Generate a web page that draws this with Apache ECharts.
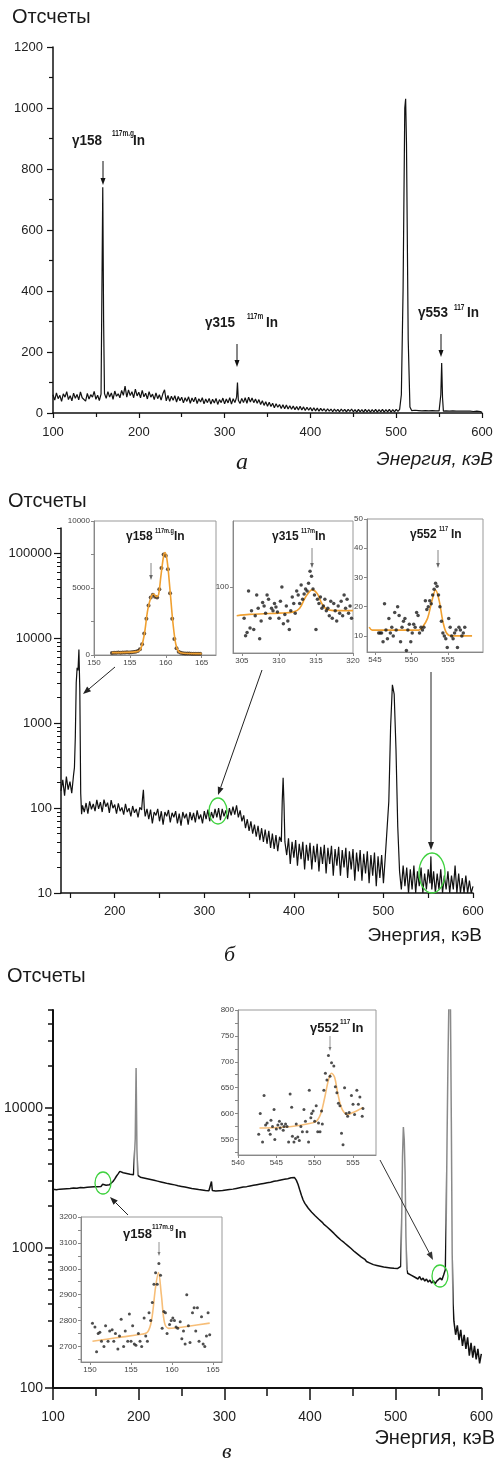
<!DOCTYPE html>
<html><head><meta charset="utf-8">
<script src="https://cdn.jsdelivr.net/npm/echarts@6/dist/echarts.min.js"></script>
<style>html,body{margin:0;padding:0;background:#fff}#c{width:496px;height:1461px}</style>
</head><body><div id="c"></div>
<script>
// ---------------- DATA ----------------
// Panel a: energy (keV), counts (linear)
const specA = [[100,60],[102,42],[104,66],[106,47],[108,58],[110,38],[112,63],[114,52],[116,70],[118,44],[120,57],[122,40],[124,65],[126,48],[128,61],[130,43],[132,69],[134,50],[136,56],[138,39],[140,64],[142,46],[144,60],[146,52],[148,71],[150,45],[152,58],[154,41],[156,62],[157,400],[158,740],[159,300],[160,64],[162,48],[164,70],[166,52],[168,66],[170,45],[172,72],[174,55],[176,63],[178,50],[180,74],[182,58],[184,88],[186,52],[188,76],[190,57],[192,70],[194,50],[196,78],[198,56],[200,68],[202,50],[204,74],[206,53],[208,65],[210,46],[212,70],[214,52],[216,62],[218,44],[220,66],[222,47],[224,60],[226,42],[228,63],[230,76],[232,40],[234,58],[236,38],[238,55],[240,42],[242,57],[244,36],[246,54],[248,40],[250,52],[252,33],[254,50],[256,38],[258,53],[260,32],[262,49],[264,37],[266,52],[268,31],[270,47],[272,36],[274,50],[276,30],[278,46],[280,34],[282,48],[284,29],[286,45],[288,33],[290,48],[292,28],[294,44],[296,34],[298,49],[300,30],[302,46],[304,33],[306,50],[308,29],[310,47],[312,34],[314,52],[315,100],[316,42],[318,31],[320,48],[322,34],[324,50],[326,32],[328,52],[330,36],[332,49],[334,34],[336,46],[338,32],[340,44],[342,28],[344,40],[346,25],[348,37],[350,22],[352,35],[354,21],[356,32],[358,17],[360,30],[362,19],[364,28],[366,15],[368,27],[370,14],[372,26],[374,13],[376,24],[378,12],[380,23],[382,11],[384,21],[386,10],[388,22],[390,10],[392,20],[394,8],[396,19],[398,9],[400,18],[402,7],[404,17],[406,7],[408,16],[410,6],[412,15],[414,7],[416,14],[418,5],[420,14],[422,6],[424,13],[426,4],[428,13],[430,5],[432,12],[434,4],[436,13],[438,5],[440,12],[442,4],[444,12],[446,5],[448,13],[450,4],[452,11],[454,3],[456,12],[458,4],[460,11],[462,3],[464,12],[466,4],[468,11],[470,3],[472,11],[474,4],[476,12],[478,3],[480,11],[482,4],[484,12],[486,3],[488,11],[490,4],[492,12],[494,3],[496,11],[498,4],[500,12],[502,5],[504,12],[506,60],[508,400],[510,1000],[511,1030],[512,880],[514,240],[516,20],[518,8],[520,4],[522,9],[524,3],[526,8],[528,2],[530,7],[532,3],[534,8],[536,2],[538,7],[540,3],[542,8],[544,2],[546,7],[548,3],[550,7],[551,8],[552,60],[553,164],[554,50],[555,6],[556,3],[558,7],[560,2],[562,6],[564,2],[566,7],[568,2],[570,6],[572,1],[574,6],[576,2],[578,6],[580,1],[582,6],[584,2],[586,6],[588,1],[590,5],[592,2],[594,6],[596,1],[598,5],[600,2]];

// Panel b: energy (keV), counts (log axis)
const specB = [[140,160],[142,215],[144,140],[146,235],[148,165],[150,205],[152,150],[154,245],[155,300],[156,700],[157,3000],[158,4500],[159,4200],[160,7400],[161,2500],[162,150],[163,85],[164,108],[166,90],[168,115],[170,86],[172,120],[174,97],[176,112],[178,92],[180,125],[182,98],[184,118],[186,90],[188,126],[190,104],[192,116],[194,88],[196,124],[198,100],[200,110],[202,86],[204,114],[206,92],[208,102],[210,84],[212,112],[214,90],[216,100],[218,80],[220,106],[222,88],[224,98],[226,78],[228,102],[230,95],[231,130],[232,164],[233,100],[234,80],[236,98],[238,74],[240,96],[242,66],[244,90],[246,82],[248,98],[250,70],[252,92],[254,64],[256,90],[258,80],[260,95],[262,68],[264,88],[266,78],[268,92],[270,66],[272,86],[274,62],[276,90],[278,76],[280,86],[282,64],[284,90],[286,72],[288,88],[290,68],[292,94],[294,74],[296,84],[298,66],[300,92],[302,74],[304,96],[306,70],[308,90],[310,76],[312,98],[314,78],[316,100],[318,72],[320,98],[322,80],[324,94],[326,74],[328,100],[330,82],[332,104],[334,84],[336,108],[338,78],[340,94],[342,70],[344,82],[346,58],[348,74],[350,54],[352,70],[354,50],[356,64],[358,46],[360,62],[362,42],[364,58],[366,40],[368,56],[370,38],[372,54],[374,34],[376,50],[378,33],[380,48],[382,31],[384,46],[386,40],[387,120],[388,228],[389,110],[390,40],[392,28],[394,44],[396,22],[398,40],[400,26],[402,42],[404,21],[406,38],[408,25],[410,40],[412,19],[414,37],[416,24],[418,39],[420,19],[422,36],[424,23],[426,38],[428,18],[430,35],[432,22],[434,37],[436,17],[438,34],[440,22],[442,36],[444,16],[446,33],[448,21],[450,35],[452,16],[454,32],[456,20],[458,34],[460,15],[462,31],[464,19],[466,33],[468,14],[470,30],[472,18],[474,32],[476,14],[478,29],[480,17],[482,31],[484,13],[486,28],[488,16],[490,30],[492,12],[494,27],[496,15],[498,28],[500,13],[502,26],[504,25],[506,120],[508,900],[510,2840],[512,2200],[514,500],[516,60],[518,18],[520,11],[522,21],[524,12],[526,20],[528,10],[530,19],[532,11],[534,21],[536,10],[538,18],[540,12],[542,20],[544,10],[546,17],[548,11],[550,19],[552,13],[553,27],[554,11],[556,18],[558,10],[560,17],[562,11],[564,19],[566,10],[568,16],[570,11],[572,18],[574,10],[576,16],[578,11],[580,21],[582,10],[584,17],[586,10],[588,15],[590,10],[592,16],[594,10],[596,14],[598,10],[600,12]];

// Panel c: energy (keV), counts (log axis)
const specC = [[100,2620],[102,2680],[104,2600],[106,2660],[108,2630],[110,2700],[112,2640],[114,2690],[116,2650],[118,2720],[120,2660],[122,2700],[124,2680],[126,2740],[128,2670],[130,2720],[132,2700],[134,2750],[136,2690],[138,2740],[140,2710],[142,2760],[144,2720],[146,2770],[148,2730],[150,2780],[152,2740],[154,2790],[156,2750],[158,2850],[160,2760],[162,2800],[164,2780],[166,2830],[168,2880],[170,2980],[172,3100],[174,3250],[176,3380],[178,3520],[180,3480],[182,3440],[184,3460],[186,3400],[188,3420],[190,3360],[192,3380],[194,3330],[195,3350],[196,6000],[197,19300],[198,5000],[199,3300],[200,3250],[202,3200],[204,3220],[206,3160],[208,3180],[210,3120],[212,3140],[214,3080],[216,3100],[218,3040],[220,3060],[222,3000],[224,3020],[226,2960],[228,2980],[230,2920],[232,2940],[234,2880],[236,2900],[238,2850],[240,2870],[242,2820],[244,2840],[246,2780],[248,2800],[250,2750],[252,2770],[254,2720],[256,2740],[258,2690],[260,2710],[262,2660],[264,2680],[266,2640],[268,2660],[270,2610],[272,2640],[274,2590],[276,2620],[278,2570],[280,2600],[282,2560],[284,2590],[285,2980],[286,2570],[288,2590],[290,2550],[292,2580],[294,2560],[296,2600],[298,2570],[300,2610],[302,2590],[304,2640],[306,2610],[308,2660],[310,2630],[312,2690],[314,2660],[316,2710],[318,2690],[320,2740],[322,2720],[324,2770],[326,2740],[328,2800],[330,2770],[332,2830],[334,2800],[336,2860],[338,2830],[340,2890],[342,2860],[344,2920],[346,2890],[348,2950],[350,2920],[352,2980],[354,2950],[356,3010],[358,2990],[360,3050],[362,3020],[364,3080],[366,3060],[368,3110],[370,3090],[372,3140],[374,3120],[376,3180],[378,3170],[380,3220],[382,3180],[384,3050],[386,2850],[388,2600],[390,2380],[392,2200],[394,2080],[396,2000],[398,1920],[400,1870],[402,1800],[404,1760],[406,1700],[408,1660],[410,1610],[412,1570],[414,1530],[416,1480],[418,1450],[420,1410],[422,1370],[424,1340],[426,1300],[428,1270],[430,1240],[432,1200],[434,1180],[436,1140],[438,1120],[440,1090],[442,1060],[444,1040],[446,1010],[448,990],[450,960],[452,940],[454,920],[456,900],[458,880],[460,860],[462,850],[464,830],[466,800],[468,810],[470,780],[472,790],[474,760],[476,775],[478,750],[480,765],[482,740],[484,755],[486,730],[488,750],[490,725],[492,745],[494,720],[496,740],[498,715],[500,735],[502,712],[504,730],[506,740],[507,1500],[508,4500],[509,7300],[510,6000],[511,3500],[512,1200],[513,700],[514,660],[516,680],[518,640],[520,660],[522,620],[524,640],[526,600],[528,625],[530,590],[532,610],[534,580],[536,600],[538,570],[540,590],[542,560],[544,585],[546,555],[548,580],[550,570],[552,610],[554,590],[556,640],[558,700],[559,1500],[560,6000],[561,20000],[562,50000],[563,60000],[564,50000],[565,8000],[566,900],[567,400],[568,300],[570,240],[572,280],[574,220],[576,260],[578,200],[580,240],[582,190],[584,230],[586,170],[588,210],[590,165],[592,200],[594,160],[596,190],[598,150],[600,175]];

// Inset b1 (γ158, panel б)
const b1Dots = [[152.5,150],[152.8,170],[153.1,160],[153.4,180],[153.7,170],[154.0,190],[154.3,180],[154.6,200],[154.9,190],[155.2,210],[155.5,220],[155.8,240],[156.1,300],[156.4,420],[156.7,800],[157.0,1600],[157.3,2700],[157.6,3700],[157.9,4300],[158.2,4500],[158.5,4350],[158.8,4300],[159.1,4900],[159.4,6500],[159.7,7500],[160.0,7400],[160.3,6400],[160.6,4600],[160.9,2700],[161.2,1200],[161.5,500],[161.8,250],[162.1,160],[162.4,130],[162.7,120],[163.0,110],[163.3,110],[163.6,100],[163.9,100],[164.2,95],[164.5,90],[164.8,90]];
const b1Fit = [[152.5,180],[156,250],[156.5,450],[157,1500],[157.5,3400],[158,4400],[158.3,4550],[158.7,4350],[159,4500],[159.3,5800],[159.7,7400],[159.9,7650],[160.2,7000],[160.6,4800],[161,2400],[161.4,800],[161.8,250],[162.5,130],[165,100]];
// Inset b2 (γ315)
const b2Dots = [[305.3,72],[305.5,60],[305.7,62],[305.9,96],[306.1,65],[306.3,78],[306.6,64],[306.8,74],[307.0,92],[307.2,80],[307.4,58],[307.6,70],[307.8,85],[308.0,82],[308.2,76],[308.4,92],[308.6,88],[308.8,72],[309.0,80],[309.2,78],[309.4,84],[309.6,81],[309.8,77],[310.0,72],[310.2,86],[310.4,100],[310.6,68],[310.8,75],[311.0,82],[311.2,70],[311.4,64],[311.6,78],[311.8,90],[312.0,84],[312.2,76],[312.4,96],[312.6,92],[312.8,84],[313.0,102],[313.2,88],[313.4,93],[313.6,98],[313.8,96],[314.0,104],[314.2,118],[314.4,112],[314.6,98],[314.8,92],[315.0,64],[315.2,88],[315.4,84],[315.6,90],[315.8,80],[316.0,82],[316.2,88],[316.4,78],[316.6,80],[316.8,74],[317.0,86],[317.2,72],[317.4,84],[317.6,78],[317.8,70],[318.0,82],[318.2,76],[318.4,86],[318.6,74],[318.8,92],[319.0,80],[319.2,88],[319.4,76],[319.6,82],[319.8,72]];
const b2Fit = [[304.3,74],[306,75],[308,75.5],[310,76],[312,77],[312.8,80],[313.6,90],[314.5,97],[315.2,93],[315.8,84],[316.5,79],[318,78],[320,78]];
// Inset b3 (γ552)
const b3Dots = [[545.5,11],[545.7,11],[545.9,11],[546.1,8],[546.3,21],[546.5,12],[546.7,9],[546.9,16],[547.1,11],[547.3,13],[547.5,10],[547.7,18],[547.9,12],[548.1,20],[548.3,17],[548.5,8],[548.7,13],[548.9,15],[549.1,16],[549.3,5],[549.5,12],[549.7,14],[549.9,8],[550.1,11],[550.3,14],[550.5,13],[550.7,18],[550.9,17],[551.1,11],[551.3,13],[551.5,12],[551.7,13],[551.9,22],[552.1,19],[552.3,20],[552.5,22],[552.7,21],[552.9,24],[553.1,26],[553.3,28],[553.5,27],[553.7,24],[553.9,20],[554.1,15],[554.3,11],[554.5,10],[554.7,9],[554.9,6],[555.1,16],[555.3,13],[555.5,10],[555.7,9],[555.9,11],[556.1,12],[556.3,6],[556.5,13],[556.7,12],[556.9,10],[557.1,11],[557.3,13]];
const b3Fit = [[544.2,13],[544.6,12],[545,12],[551,12],[551.5,13],[552.2,16],[552.8,22],[553.3,25.7],[553.8,22],[554.3,15],[554.8,11],[555.5,10],[557,10],[558.3,10]];
// Inset c1 (γ552, panel в)
const c1Dots = [[542.7,560],[542.9,600],[543.2,545],[543.4,635],[543.6,578],[543.8,582],[544.0,568],[544.2,560],[544.3,587],[544.5,575],[544.7,608],[544.8,550],[545.0,570],[545.2,578],[545.4,585],[545.5,572],[545.7,580],[545.9,568],[546.0,575],[546.2,580],[546.4,575],[546.6,545],[546.8,638],[547.0,612],[547.1,556],[547.3,545],[547.5,552],[547.6,580],[547.8,555],[548.0,548],[548.2,575],[548.4,565],[548.6,608],[548.8,585],[549.0,565],[549.2,545],[549.3,645],[549.5,592],[549.6,600],[549.8,605],[550.0,585],[550.2,615],[550.4,565],[550.5,582],[550.7,565],[550.9,605],[551.0,580],[551.2,645],[551.4,678],[551.6,665],[551.8,712],[552.0,672],[552.2,698],[552.5,692],[552.7,652],[552.9,640],[553.1,620],[553.3,615],[553.5,562],[553.7,540],[553.9,650],[554.1,600],[554.3,595],[554.5,602],[554.8,635],[555.0,618],[555.2,598],[555.5,645],[555.7,618],[555.9,632],[556.2,595],[556.3,610]];
const c1Fit = [[542.8,572],[545,573],[547,575],[549,580],[550.2,585],[550.8,600],[551.3,630],[551.8,665],[552.2,678],[552.6,670],[553.0,640],[553.4,615],[553.8,603],[554.3,598],[555,602],[555.7,607],[556.3,612]];
// Inset c2 (γ158, panel в)
const c2Dots = [[150.3,2790],[150.6,2775],[150.8,2680],[151.0,2750],[151.2,2755],[151.4,2720],[151.7,2700],[151.9,2780],[152.2,2720],[152.4,2760],[152.7,2765],[152.9,2720],[153.1,2750],[153.4,2690],[153.6,2740],[153.8,2805],[154.1,2700],[154.3,2760],[154.6,2720],[154.8,2825],[155.0,2720],[155.2,2780],[155.4,2710],[155.6,2705],[155.9,2750],[156.1,2720],[156.3,2700],[156.6,2810],[156.8,2740],[157.0,2720],[157.2,2830],[157.4,2800],[157.6,2870],[157.8,2940],[158.0,2985],[158.2,2940],[158.4,3020],[158.6,2975],[158.8,2770],[159.0,2835],[159.2,2830],[159.4,2750],[159.7,2785],[159.9,2800],[160.1,2810],[160.3,2800],[160.5,2775],[160.7,2770],[161.0,2795],[161.2,2730],[161.4,2760],[161.6,2710],[161.8,2900],[162.0,2780],[162.2,2715],[162.5,2830],[162.7,2850],[162.9,2760],[163.1,2850],[163.3,2720],[163.6,2815],[163.8,2710],[164.0,2700],[164.2,2740],[164.4,2830],[164.6,2745]];
const c2Fit = [[150.3,2720],[152,2728],[154,2737],[156,2746],[157,2755],[157.5,2800],[158,2930],[158.35,2985],[158.7,2900],[159.1,2790],[159.6,2770],[160.5,2772],[162,2778],[164.6,2790]];

// Tick labels
const aXLabels = [100,200,300,400,500,600];
const bXLabels = [200,300,400,500,600];
const bXTicks = [150,200,250,300,350,400,450,500,550,600];
const bYLabels = [10,100,1000,10000,100000];
const cYLabels = [100,1000,10000];
const b1X = [150,155,160,165], b1Y = [0,5000,10000];
const b2X = [305,310,315,320], b2Y = [100];
const b3X = [545,550,555], b3Y = [10,20,30,40,50];
const c1X = [540,545,550,555], c1Y = [550,600,650,700,750,800];
const c2X = [150,155,160,165], c2Y = [2700,2800,2900,3000,3100,3200];

// ---------------- CHART ----------------
const FONT = '"Liberation Sans", Arial, sans-serif';
const SERIF = '"Liberation Serif", "Times New Roman", serif';
const plain = v => String(Math.round(v));
function minorLog(decades, maxV){ const r=[]; decades.forEach(d=>{ for(let m=2;m<=9;m++){ if(m*d<=maxV) r.push(m*d);} }); return r; }
function midTicks(vals){ const r=[]; for(let i=0;i<vals.length;i++){ r.push(vals[i]); if(i<vals.length-1) r.push((vals[i]+vals[i+1])/2);} return r; }

const INK = '#111';
function mainAxisBase(w){
  return { axisLine:{onZero:false, lineStyle:{color:INK, width:w}}, splitLine:{show:false} };
}
function insetX(g, min, max, labels, ticks){
  return { gridIndex:g, type:'value', min, max, z:6,
    axisLine:{onZero:false, lineStyle:{color:'#888', width:1}},
    axisTick:{customValues:ticks, length:3, lineStyle:{color:'#888'}},
    axisLabel:{customValues:labels, fontSize:8, color:'#444', margin:4, fontFamily:FONT, formatter:plain},
    splitLine:{show:false} };
}
function insetY(g, type, min, max, labels, ticks){
  const o = { gridIndex:g, type, min, max, z:6,
    axisLine:{onZero:false, lineStyle:{color:'#888', width:1}},
    axisTick:{customValues:ticks, length:3, lineStyle:{color:'#888'}},
    axisLabel:{customValues:labels, fontSize:8, color:'#444', margin:4, fontFamily:FONT, formatter:plain},
    splitLine:{show:false} };
  if(type==='log') o.logBase = 10;
  return o;
}
const insetGrid = (left, top, width, height) => ({left, top, width, height, show:true, z:5, backgroundColor:'#fff', borderColor:'#999', borderWidth:1});

const grids = [
  {left:53, top:47, width:429, height:366},
  {left:61, top:528, width:412, height:365},
  {left:53, top:1010, width:430, height:378},
  insetGrid(94, 521, 122, 134),
  insetGrid(233, 521, 120, 132),
  insetGrid(367, 519, 116, 133),
  insetGrid(238, 1010, 138, 145),
  insetGrid(81, 1217, 141, 145)
];

const xAxes = [
  Object.assign(mainAxisBase(1.5), {gridIndex:0, type:'value', min:100, max:600, interval:100,
    axisTick:{length:5, lineStyle:{color:INK, width:1.2}}, minorTick:{show:true, splitNumber:2, length:4, lineStyle:{color:INK, width:1.2}},
    axisLabel:{fontSize:13, color:'#222', margin:13, fontFamily:FONT, formatter:plain}}),
  Object.assign(mainAxisBase(1.5), {gridIndex:1, type:'value', min:140, max:600,
    axisTick:{customValues:bXTicks, length:5, lineStyle:{color:INK, width:1.2}},
    axisLabel:{customValues:bXLabels, fontSize:13, color:'#222', margin:12, fontFamily:FONT, formatter:plain}}),
  Object.assign(mainAxisBase(2), {gridIndex:2, type:'value', min:100, max:600, interval:100,
    axisTick:{length:12, lineStyle:{color:INK, width:1.5}}, minorTick:{show:true, splitNumber:2, length:8, lineStyle:{color:INK, width:1.5}},
    axisLabel:{fontSize:14, color:'#222', margin:22, fontFamily:FONT, formatter:plain}}),
  insetX(3, 150, 167, b1X, b1X),
  insetX(4, 303.8, 320, b2X, b2X),
  insetX(5, 543.9, 559.8, b3X, b3X),
  insetX(6, 540, 558, c1X, c1X),
  insetX(7, 148.9, 166.1, c2X, c2X)
];

const yAxes = [
  Object.assign(mainAxisBase(1.5), {gridIndex:0, type:'value', min:0, max:1200, interval:200,
    axisTick:{length:6, lineStyle:{color:INK, width:1.2}}, minorTick:{show:true, splitNumber:2, length:4, lineStyle:{color:INK, width:1.2}},
    axisLabel:{fontSize:13, color:'#222', margin:10, fontFamily:FONT, formatter:plain}}),
  Object.assign(mainAxisBase(1.5), {gridIndex:1, type:'log', logBase:10, min:10, max:200000, position:'left',
    axisTick:{customValues:bYLabels, length:7, lineStyle:{color:INK, width:1.2}},
    axisLabel:{customValues:bYLabels, fontSize:13, color:'#222', margin:9, fontFamily:FONT, formatter:plain}}),
  {gridIndex:1, type:'log', logBase:10, min:10, max:200000, position:'left', axisLine:{show:false}, splitLine:{show:false},
    axisTick:{customValues:minorLog([10,100,1000,10000,100000],200000), length:4, lineStyle:{color:INK, width:1}}, axisLabel:{show:false}},
  Object.assign(mainAxisBase(2), {gridIndex:2, type:'log', logBase:10, min:100, max:50000, position:'left',
    axisTick:{customValues:cYLabels, length:8, lineStyle:{color:INK, width:1.5}},
    axisLabel:{customValues:cYLabels, fontSize:14, color:'#222', margin:10, fontFamily:FONT, formatter:plain}}),
  {gridIndex:2, type:'log', logBase:10, min:100, max:50000, position:'left', axisLine:{show:false}, splitLine:{show:false},
    axisTick:{customValues:minorLog([100,1000,10000],50000), length:5, lineStyle:{color:INK, width:1.5}}, axisLabel:{show:false}},
  insetY(3, 'value', 0, 10000, b1Y, midTicks(b1Y)),
  insetY(4, 'log', 50, 200, b2Y, b2Y),
  insetY(5, 'value', 4.5, 50, b3Y, b3Y),
  insetY(6, 'value', 520, 800, c1Y, [525].concat(midTicks(c1Y))),
  insetY(7, 'value', 2640, 3200, c2Y, [2650].concat(midTicks(c2Y)))
];

const spec = (xi, yi, data, color, w) => { const ls = {width:w}; if(color) ls.color = color; return {type:'line', xAxisIndex:xi, yAxisIndex:yi, data, showSymbol:false, symbol:'none', sampling:null, lineStyle:ls, z:2, silent:true}; };
const dots = (xi, yi, data, color, size, z) => ({type:'scatter', xAxisIndex:xi, yAxisIndex:yi, data, symbolSize:size, itemStyle:{color}, z:z||8, silent:true});
const fit = (xi, yi, data, color, z) => ({type:'line', xAxisIndex:xi, yAxisIndex:yi, data, smooth:0.35, showSymbol:false, symbol:'none', lineStyle:{color, width:1.6}, z:z||7, silent:true});

const series = [
  spec(0, 0, specA, INK, 1.2),
  spec(1, 1, specB, INK, 1.2),
  spec(2, 3, specC, null, 1.5),
  dots(3, 5, b1Dots, '#3a2512', 4, 7), fit(3, 5, b1Fit, '#f0a030', 8),
  fit(4, 6, b2Fit, '#f0a030'), dots(4, 6, b2Dots, '#1a1a1a', 3.5),
  fit(5, 7, b3Fit, '#f0a030'), dots(5, 7, b3Dots, '#1a1a1a', 3.5),
  fit(6, 8, c1Fit, '#f7be78'), dots(6, 8, c1Dots, '#222', 3),
  fit(7, 9, c2Fit, '#f7be78'), dots(7, 9, c2Dots, '#222', 3)
];

// ---- annotations ----
function T(x, y, s, size, extra, sx){ const o = {type:'text', x, y, z:100, silent:true, style:Object.assign({text:s, fontSize:size, fontFamily:FONT, fill:'#1a1a1a', align:'left', verticalAlign:'middle'}, extra||{})}; if(sx){ o.scaleX = sx; } return o; }
const B = {fontWeight:'bold'};
function arrow(x1, y1, x2, y2, color, w, hl, hw){
  const dx=x2-x1, dy=y2-y1, L=Math.hypot(dx,dy), ux=dx/L, uy=dy/L, bx=x2-ux*hl, by=y2-uy*hl;
  return [{type:'line', z:100, silent:true, shape:{x1, y1, x2:bx, y2:by}, style:{stroke:color, lineWidth:w}},
          {type:'polygon', z:100, silent:true, shape:{points:[[x2,y2],[bx-uy*hw,by+ux*hw],[bx+uy*hw,by-ux*hw]]}, style:{fill:color}}];
}
const ell = (cx, cy, rx, ry) => ({type:'ellipse', z:100, silent:true, shape:{cx, cy, rx, ry}, style:{fill:'none', stroke:'#3fd23f', lineWidth:1.3}});

const graphics = [
  // panel а
  T(12, 17, 'Отсчеты', 20),
  T(72, 141, 'γ158', 15, B, 0.9), T(112, 134, '117m.g', 9, B, 0.72), T(133, 141, 'In', 15, B, 0.9),
  T(205, 323, 'γ315', 15, B, 0.9), T(247, 317, '117m', 9, B, 0.72), T(266, 323, 'In', 15, B, 0.9),
  T(418, 313, 'γ553', 15, B, 0.9), T(454, 308, '117', 9, B, 0.72), T(467, 313, 'In', 15, B, 0.9),
  ...arrow(103, 161, 103, 185, INK, 1, 7, 2.5),
  ...arrow(237, 344, 237, 367, INK, 1, 7, 2.5),
  ...arrow(441, 334, 441, 357, INK, 1, 7, 2.5),
  T(493, 460, 'Энергия, кэВ', 19, {align:'right', fontStyle:'italic'}),
  T(236, 463, 'а', 24, {fontFamily:SERIF, fontStyle:'italic'}),
  // panel б
  T(8, 501, 'Отсчеты', 20),
  T(126, 537, 'γ158', 12, B), T(155, 531, '117m.g', 7, B, 0.8), T(174, 537, 'In', 12, B),
  T(272, 537, 'γ315', 12, B), T(301, 531, '117m', 7, B, 0.8), T(315, 537, 'In', 12, B),
  T(410, 535, 'γ552', 12, B), T(439, 529, '117', 7, B, 0.8), T(451, 535, 'In', 12, B),
  ...arrow(151, 563, 151, 580, '#666', 0.8, 5, 1.8),
  ...arrow(312, 548, 312, 568, '#666', 0.8, 5, 1.8),
  ...arrow(438, 550, 438, 568, '#666', 0.8, 5, 1.8),
  ...arrow(115, 667, 83, 694, '#222', 1, 8, 3),
  ...arrow(262, 670, 218, 795, '#222', 1, 8, 3),
  ...arrow(431, 672, 431, 850, '#222', 1, 8, 3),
  ell(218, 811, 9, 13), ell(432, 873, 13, 20),
  T(482, 936, 'Энергия, кэВ', 19, {align:'right'}),
  T(224, 955, 'б', 22, {fontFamily:SERIF, fontStyle:'italic'}),
  // panel в
  T(7, 976, 'Отсчеты', 20),
  T(310, 1028, 'γ552', 13, B), T(340, 1022, '117', 8, B, 0.8), T(352, 1028, 'In', 13, B),
  T(123, 1234, 'γ158', 13, B), T(152, 1227, '117m.g', 8, B, 0.8), T(175, 1234, 'In', 13, B),
  ...arrow(330, 1036, 330, 1051, '#777', 0.8, 4, 1.5),
  ...arrow(159, 1242, 159, 1256, '#777', 0.8, 4, 1.5),
  ...arrow(128, 1215, 110, 1197, '#222', 1, 8, 3),
  ...arrow(380, 1160, 433, 1260, '#333', 1, 8, 3),
  ell(103, 1183, 8, 11), ell(440, 1276, 8, 11),
  T(495, 1438, 'Энергия, кэВ', 20, {align:'right'}),
  T(222, 1452, 'в', 22, {fontFamily:SERIF, fontStyle:'italic'})
];

const chart = echarts.init(document.getElementById('c'), null, {renderer:'canvas'});
chart.setOption({
  animation:false,
  backgroundColor:'#fff',
  grid: grids,
  xAxis: xAxes,
  yAxis: yAxes,
  visualMap: [{type:'piecewise', show:false, seriesIndex:2, dimension:0,
    pieces:[{gt:194.5, lt:199.5, color:'#8a8a8a'}, {gt:506.5, lt:513.5, color:'#8a8a8a'}, {gt:558.5, lt:566.5, color:'#8a8a8a'}],
    outOfRange:{color:INK}}],
  series,
  graphic: {elements: graphics}
});
</script></body></html>
